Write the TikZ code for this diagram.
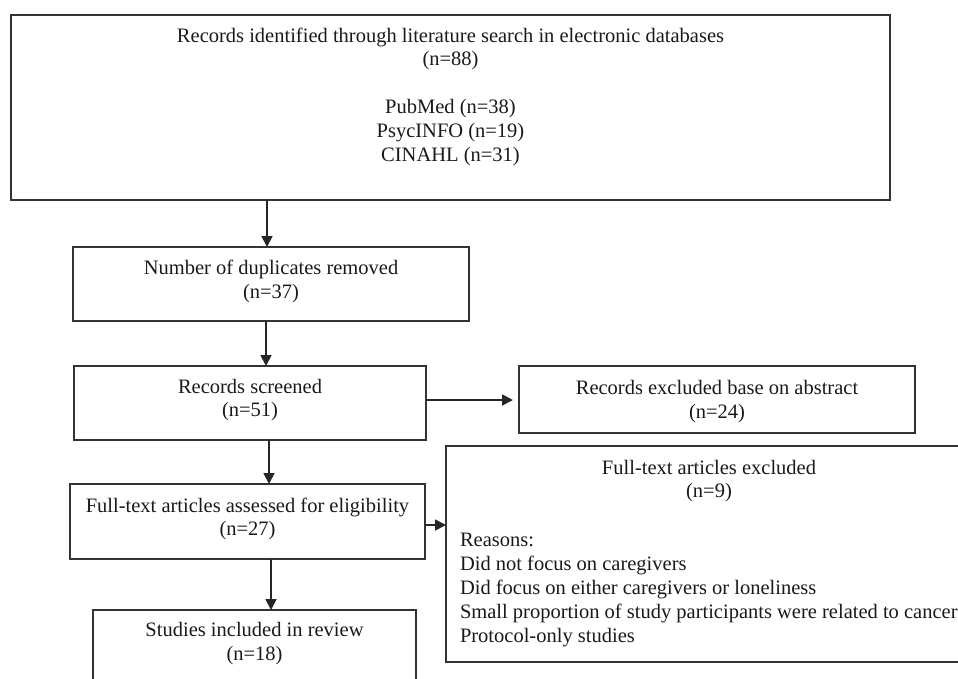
\documentclass[tikz,border=0pt]{standalone}
\usepackage{fontspec}
\setmainfont{Liberation Serif}
\usetikzlibrary{arrows.meta}
\begin{document}
\begin{tikzpicture}[x=1pt,y=-1pt,
  box/.style={draw=black!80,line width=1.8pt,inner sep=0,outer sep=0},
  txt/.style={inner sep=0,outer sep=0,align=center,text=black!90,font=\fontsize{20.5}{23.8}\selectfont},
  arr/.style={draw=black!85,line width=1.8pt,-{Triangle[length=11pt,width=11pt]}}]
\useasboundingbox (0,0) rectangle (958,678);
\clip (0,0) rectangle (958,678);
% boxes
\node[box,minimum width=879pt,minimum height=185pt] (box1) at (450.5,107.5) {};
\node[box,minimum width=396pt,minimum height=74pt] (box2) at (271,284) {};
\node[box,minimum width=352pt,minimum height=74pt] (box3) at (250,403) {};
\node[box,minimum width=355pt,minimum height=75pt] (box4) at (247.5,521.5) {};
\node[box,minimum width=323pt,minimum height=100pt] (box5) at (254.5,660) {};
\node[box,minimum width=396pt,minimum height=67pt] (box6) at (717,399.5) {};
\node[box,minimum width=526pt,minimum height=216pt] (box7) at (709,554) {};
% texts
\node[txt] (t1) at (450.5,96.5) {Records identified through literature search in electronic databases\\(n=88)\\[23.8pt]PubMed (n=38)\\PsycINFO (n=19)\\CINAHL (n=31)};
\node[txt] (t2) at (271,281.5) {Number of duplicates removed\\(n=37)};
\node[txt] (t3) at (250,400) {Records screened\\(n=51)};
\node[txt] (t4) at (247.5,519) {Full-text articles assessed for eligibility\\(n=27)};
\node[txt] (t5) at (254.5,643.5) {Studies included in review\\(n=18)};
\node[txt] (t6) at (717,401.5) {Records excluded base on abstract\\(n=24)};
\node[txt] (t7) at (709,481) {Full-text articles excluded\\(n=9)};
\node[txt,align=left,anchor=west] (t8) at (460,590) {Reasons:\\Did not focus on caregivers\\Did focus on either caregivers or loneliness\\Small proportion of study participants were related to cancer\\Protocol-only studies};
% connector positions
\coordinate (c1) at (267,0);
\coordinate (c2) at (266,0);
\coordinate (c3) at (269,0);
\coordinate (c4) at (271,0);
\coordinate (r1) at (0,400);
\coordinate (r2) at (0,525);
% connectors
\draw[arr] (box1.south -| c1) -- (box2.north -| c1);
\draw[arr] (box2.south -| c2) -- (box3.north -| c2);
\draw[arr] (box3.south -| c3) -- (box4.north -| c3);
\draw[arr] (box4.south -| c4) -- (box5.north -| c4);
\draw[arr,shorten >=6pt] (box3.east |- r1) -- (box6.west |- r1);
\draw[arr] (box4.east |- r2) -- (box7.west |- r2);
\end{tikzpicture}
\end{document}
